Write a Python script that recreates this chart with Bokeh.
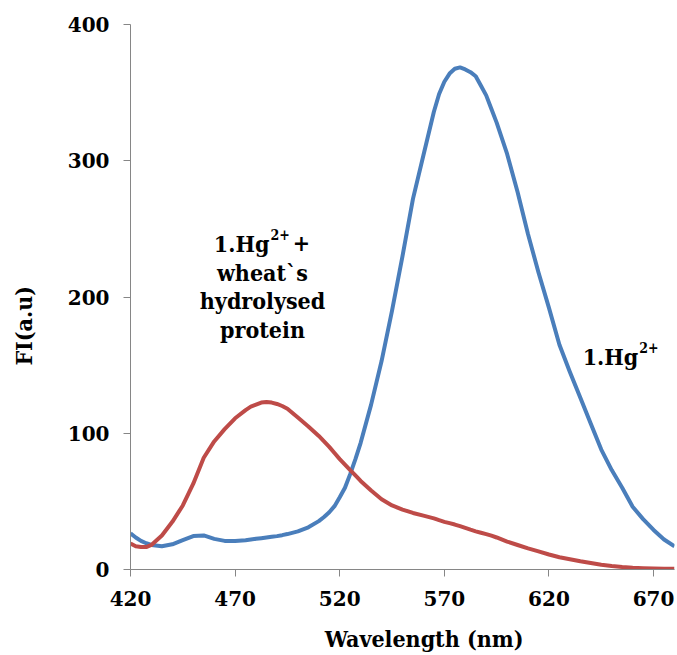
from bokeh.plotting import figure
from bokeh.models import FixedTicker, Label
from bokeh.embed import file_html
from bokeh.resources import INLINE

# Emission spectra (fluorescence intensity vs wavelength)
wavelength = [420, 422.5, 425, 427.5, 430, 435, 440, 445, 450, 455, 460, 465, 470, 475,
              477.5, 480, 482.5, 485, 487.5, 490, 492.5, 495, 500, 505, 510, 512.5, 515,
              517.5, 520, 522.5, 525, 527.5, 530, 535, 540, 545, 550, 555, 560, 565,
              567.5, 570, 572.5, 575, 577.5, 580, 582.5, 585, 587.5, 590, 592.5, 595,
              600, 605, 610, 615, 620, 625, 630, 635, 640, 645, 650, 655, 660, 665,
              670, 675, 680]

fi_hg = [26.5, 23.5, 21, 19.3, 18, 17, 18.5, 21.5, 24.5, 25, 22.5, 21, 21, 21.5,
         22, 22.5, 23, 23.5, 24, 24.5, 25.2, 26, 28, 31, 35.5, 38.5, 42,
         46.5, 53, 60, 70, 81, 93, 121, 153, 190, 230, 272, 304, 336,
         349, 358, 364, 367.5, 368.5, 367, 365, 362, 355, 348, 338, 328,
         305, 277, 246, 218, 192, 165, 145, 126, 107, 88, 73, 60, 46, 37,
         29, 22, 17]

fi_hg_protein = [19, 17, 16.5, 16.5, 18, 25, 35, 47, 63, 82, 94, 103, 111, 117,
                 119.5, 121, 122.5, 123, 122.5, 121.5, 120, 118, 111.5, 105, 98, 94, 90,
                 85.5, 81, 77, 73, 69, 65, 58, 51.5, 47, 44, 41.5, 39.5, 37.5,
                 36.2, 35, 34, 33, 31.8, 30.5, 29.2, 28, 27, 26, 24.8, 23.5,
                 20.5, 18, 15.5, 13.3, 11, 9, 7.5, 6, 4.7, 3.5, 2.5, 1.8, 1.3, 1,
                 0.8, 0.6, 0.5]

x_ticks = [420, 470, 520, 570, 620, 670]
y_ticks = [0, 100, 200, 300, 400]

TICK_FONT = "DejaVu Serif"
TEXT_FONT = "DejaVu Serif Condensed"
AXIS_GREY = "#868686"
BLUE = "#4a7ebb"
RED = "#be4b48"
NBSP = "\u00a0"

p = figure(width=677, height=655, x_range=(420, 680), y_range=(0, 400),
           output_backend="svg", toolbar_location=None,
           min_border_left=130, min_border_right=3,
           min_border_top=24, min_border_bottom=86)

p.outline_line_color = None
p.background_fill_color = "white"
p.border_fill_color = "white"
p.xgrid.visible = False
p.ygrid.visible = False

p.line(wavelength, fi_hg, line_color=BLUE, line_width=4, line_join="round")
p.line(wavelength, fi_hg_protein, line_color=RED, line_width=4, line_join="round")

for ax, ticks in ((p.xaxis[0], x_ticks), (p.yaxis[0], y_ticks)):
    ax.ticker = FixedTicker(ticks=ticks)
    ax.axis_line_color = AXIS_GREY
    ax.axis_line_width = 1
    ax.major_tick_line_color = AXIS_GREY
    ax.major_tick_out = 7
    ax.major_tick_in = 0
    ax.minor_tick_line_color = None
    ax.major_label_text_font = TICK_FONT
    ax.major_label_text_font_style = "bold"
    ax.major_label_text_font_size = "20px"
    ax.major_label_text_color = "black"
    ax.axis_label_text_font = TEXT_FONT
    ax.axis_label_text_font_style = "bold"
    ax.axis_label_text_font_size = "23px"
    ax.axis_label_text_color = "black"

# Non-breaking spaces nudge the titles off the frame centre
p.xaxis.axis_label = NBSP * 6 + "Wavelength (nm)"
p.yaxis.axis_label = "FI(a.u)" + NBSP * 8
p.xaxis.major_label_standoff = 14
p.xaxis.axis_label_standoff = 16
p.yaxis.major_label_standoff = 14
p.yaxis.axis_label_standoff = 28


def add_label(x, y, text, size, align="left"):
    p.add_layout(Label(x=x, y=y, text=text, text_font=TEXT_FONT, text_font_style="bold",
                       text_font_size=size, text_color="black",
                       text_align=align, text_baseline="alphabetic"))


# Annotation for the complex with the wheat protein hydrolysate
add_label(486.4, 239.3, "1.Hg", "23px", "right")
add_label(486.9, 246.0, "2+", "14px", "left")
add_label(497.6, 239.3, "+", "23px", "left")
add_label(483.1, 218.0, "wheat`s", "23px", "center")
add_label(483.1, 197.1, "hydrolysed", "23px", "center")
add_label(483.1, 176.1, "protein", "23px", "center")

# Annotation for the free complex
add_label(662.7, 156.5, "1.Hg", "23px", "right")
add_label(663.2, 163.0, "2+", "14px", "left")

open("out.html", "w").write(file_html(p, INLINE))
